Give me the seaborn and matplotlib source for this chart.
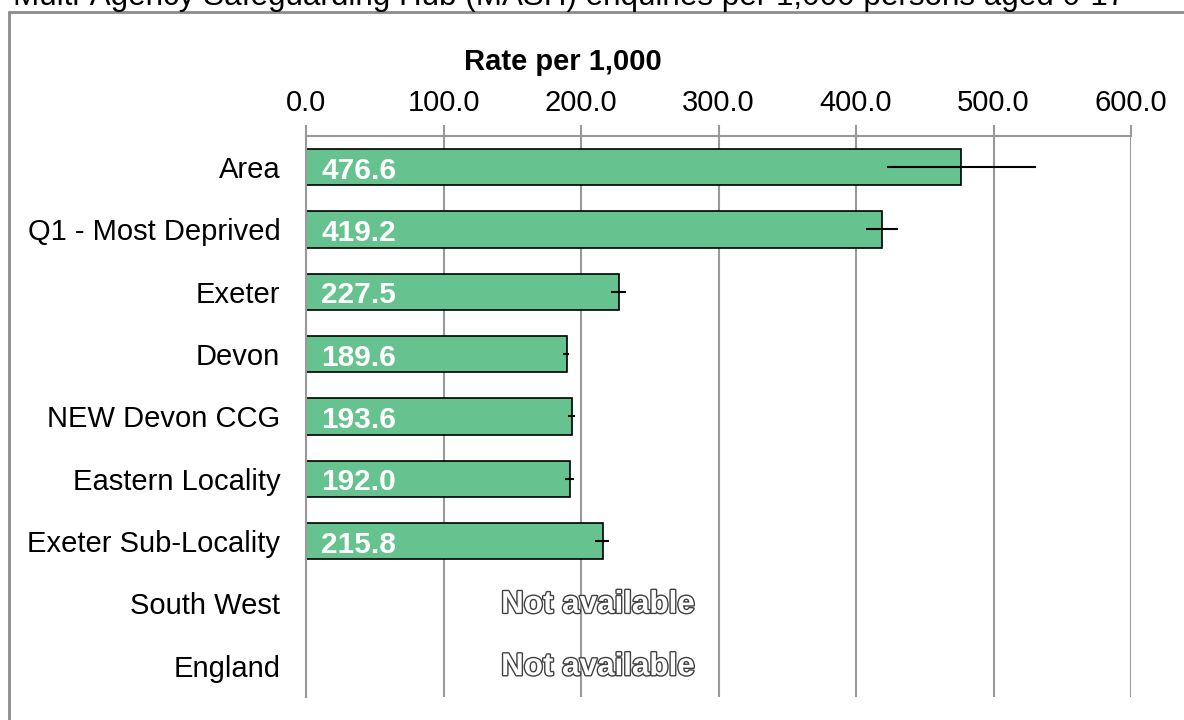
import numpy as np
import pandas as pd
import seaborn as sns
import matplotlib.pyplot as plt
import matplotlib.patheffects as pe
from matplotlib.lines import Line2D
from matplotlib.ticker import FixedLocator

areas = ["Area", "Q1 - Most Deprived", "Exeter", "Devon", "NEW Devon CCG",
         "Eastern Locality", "Exeter Sub-Locality", "South West", "England"]
rates = [476.6, 419.2, 227.5, 189.6, 193.6, 192.0, 215.8, np.nan, np.nan]
ci_low = [422.5, 407.0, 222.0, 187.2, 190.8, 188.4, 210.4, np.nan, np.nan]
ci_high = [531.0, 430.5, 232.7, 191.3, 195.6, 194.7, 220.6, np.nan, np.nan]
xticks = [0, 100, 200, 300, 400, 500, 600]

title = "Multi-Agency Safeguarding Hub (MASH) enquiries per 1,000 persons aged 0-17"

sns.set_style("white")
plt.rcParams["font.family"] = ["Liberation Sans", "DejaVu Sans"]
plt.rcParams["text.color"] = "black"
plt.rcParams["xtick.labelcolor"] = "black"
plt.rcParams["ytick.labelcolor"] = "black"

df = pd.DataFrame({"area": areas, "rate": rates})

fig = plt.figure(figsize=(11.84, 7.2), dpi=100)
ax = fig.add_axes([306 / 1184, 1 - 697 / 720, (1131 - 306) / 1184, (697 - 136) / 720])

sns.barplot(data=df, x="rate", y="area", order=areas, orient="h",
            color="#66C28E", saturation=1, edgecolor="black", linewidth=1.2,
            width=0.58, errorbar=None, ax=ax)

# confidence intervals
rates_a = np.array(rates)
ypos = np.arange(len(areas))
ok = ~np.isnan(rates_a)
xerr = np.vstack([rates_a - np.array(ci_low), np.array(ci_high) - rates_a])
ax.errorbar(rates_a[ok], ypos[ok], xerr=xerr[:, ok], fmt="none",
            ecolor="black", elinewidth=1.5, capsize=0, zorder=5)

# value labels / missing text
for i, v in enumerate(rates):
    if np.isnan(v):
        ax.text(212.5, i + 0.02, "Not available", ha="center", va="center",
                fontsize=22.6, fontweight="bold", color="white",
                path_effects=[pe.withStroke(linewidth=2.0, foreground="#404040")])
    else:
        ax.annotate(f"{v:.1f}", xy=(0, i), xytext=(11, -2.5),
                    textcoords="offset points", ha="left", va="center",
                    fontsize=21.5, fontweight="bold", color="white", zorder=6)

ax.set_xlim(0, 600)
ax.set_ylim(len(areas) - 0.5, -0.5)
ax.xaxis.set_ticks_position("top")
ax.xaxis.set_label_position("top")
ax.set_xticks(xticks)
ax.set_xticklabels([f"{t:.1f}" for t in xticks])
ax.tick_params(axis="x", which="major", length=8, width=1.5, color="#999999",
               labelsize=21, pad=5.5, direction="out")
ax.set_yticks(ypos)
ax.set_yticklabels(areas)
ax.yaxis.set_minor_locator(FixedLocator(np.arange(-0.5, len(areas), 1.0)))
ax.tick_params(axis="y", which="major", length=0, labelsize=21, pad=18.5)
ax.tick_params(axis="y", which="minor", length=8, width=1.5, color="#999999",
               direction="out")
ax.set_xlabel("")
ax.set_ylabel("")
ax.grid(axis="x", color="#999999", linewidth=1.5)
ax.set_axisbelow(True)
for side in ["bottom", "right"]:
    ax.spines[side].set_visible(False)
for side in ["top", "left"]:
    ax.spines[side].set_color("#999999")
    ax.spines[side].set_linewidth(1.5)

fig.text(563 / 1184, 1 - 62 / 720, "Rate per 1,000", ha="center", va="center",
         fontsize=21, fontweight="bold")
fig.text(13 / 1184, 1 - 5 / 720, title, ha="left", va="baseline", fontsize=22.6)

# outer chart frame
fig.add_artist(Line2D([9 / 1184, 9 / 1184], [0, 1 - 12 / 720],
                      transform=fig.transFigure, color="#8c8c8c", lw=2))
fig.add_artist(Line2D([9 / 1184, 1], [1 - 12 / 720, 1 - 12 / 720],
                      transform=fig.transFigure, color="#8c8c8c", lw=2))

fig.savefig("out.png", dpi=100)
